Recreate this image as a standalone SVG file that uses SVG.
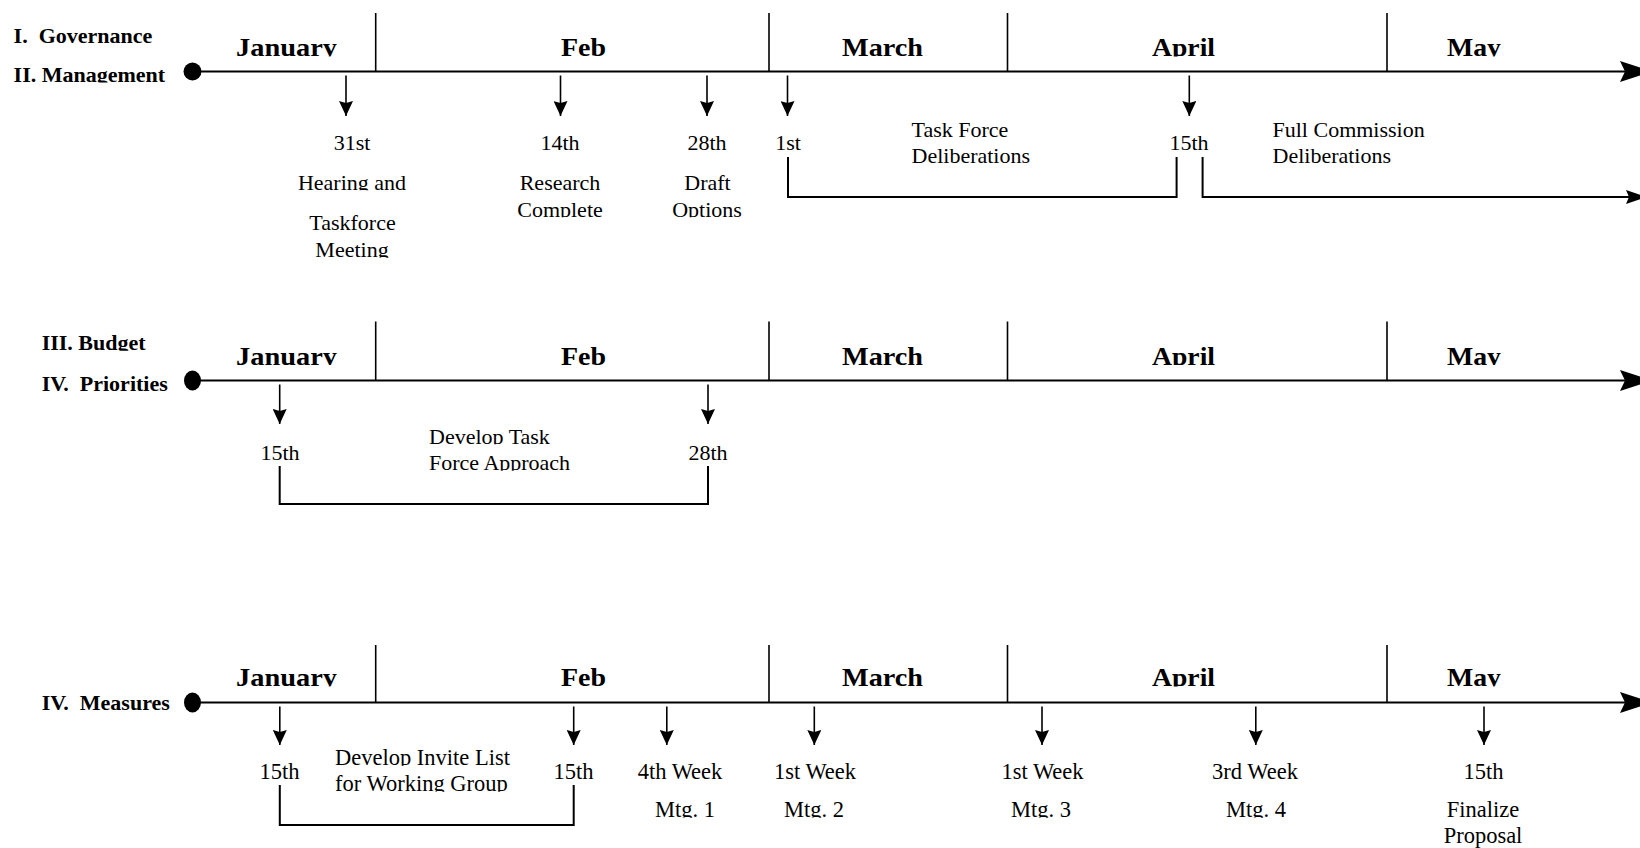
<svg xmlns="http://www.w3.org/2000/svg" width="1640" height="848" viewBox="0 0 1640 848">
<defs>
<style>
text{font-family:"Liberation Serif","Times New Roman",serif;fill:#000}
.lbl{font-size:22px;font-weight:bold}
.mon{font-size:25px;font-weight:bold}
.t{font-size:22px;text-anchor:middle}
.tl{font-size:22px}
.t3{font-size:22.5px;text-anchor:middle}
.t3l{font-size:22.5px}
.cl{clip-path:url(#cb)}
.axis{stroke:#000;stroke-width:2.2;fill:none}
.div{stroke:#000;stroke-width:1.6}
.drop{stroke:#000;stroke-width:1.6;marker-end:url(#ah)}
.br{stroke:#000;stroke-width:2;fill:none}
.head{fill:#000;stroke:none}
</style>
<clipPath id="cb" clipPathUnits="objectBoundingBox"><rect x="-0.1" y="-0.2" width="1.2" height="1.032"/></clipPath>
<marker id="ah" viewBox="0 0 15 14" refX="15" refY="7" markerWidth="15" markerHeight="14" markerUnits="userSpaceOnUse" orient="auto"><path d="M0,0 L15,7 L0,14 L2,7 z" fill="#000"/></marker>
</defs>
<rect width="1640" height="848" fill="#fff"/>

<g id="connectors">
  <!-- Row 1 axis -->
  <line class="axis" x1="192" y1="71.5" x2="1626" y2="71.5"/>
  <polygon class="head" points="1652,71.5 1620,61 1625,71.5 1620,82"/>
  <line class="div" x1="375.7" y1="13" x2="375.7" y2="71.5"/>
  <line class="div" x1="769" y1="13" x2="769" y2="71.5"/>
  <line class="div" x1="1007.5" y1="13" x2="1007.5" y2="71.5"/>
  <line class="div" x1="1387" y1="13" x2="1387" y2="71.5"/>
  <line class="drop" x1="346" y1="75.5" x2="346" y2="116"/>
  <line class="drop" x1="560.5" y1="75.5" x2="560.5" y2="116"/>
  <line class="drop" x1="707" y1="75.5" x2="707" y2="116"/>
  <line class="drop" x1="787.5" y1="75.5" x2="787.5" y2="116"/>
  <line class="drop" x1="1189.3" y1="75.5" x2="1189.3" y2="116"/>
  <path class="br" d="M788,157 V197 H1176.6 V157"/>
  <path class="br" d="M1202.6,157 V197 H1629"/>
  <polygon class="head" points="1647,197 1626,190 1629,197 1626,204"/>

  <!-- Row 2 axis -->
  <line class="axis" x1="192" y1="380.5" x2="1626" y2="380.5"/>
  <polygon class="head" points="1652,380.5 1620,370 1625,380.5 1620,391"/>
  <line class="div" x1="375.7" y1="321.5" x2="375.7" y2="380.5"/>
  <line class="div" x1="769" y1="321.5" x2="769" y2="380.5"/>
  <line class="div" x1="1007.5" y1="321.5" x2="1007.5" y2="380.5"/>
  <line class="div" x1="1387" y1="321.5" x2="1387" y2="380.5"/>
  <line class="drop" x1="279.7" y1="384.5" x2="279.7" y2="424"/>
  <line class="drop" x1="708" y1="384.5" x2="708" y2="424"/>
  <path class="br" d="M279.7,466 V504 H708 V466"/>

  <!-- Row 3 axis -->
  <line class="axis" x1="192" y1="702.5" x2="1626" y2="702.5"/>
  <polygon class="head" points="1652,702.5 1620,692 1625,702.5 1620,713"/>
  <line class="div" x1="375.7" y1="645" x2="375.7" y2="702.5"/>
  <line class="div" x1="769" y1="645" x2="769" y2="702.5"/>
  <line class="div" x1="1007.5" y1="645" x2="1007.5" y2="702.5"/>
  <line class="div" x1="1387" y1="645" x2="1387" y2="702.5"/>
  <line class="drop" x1="279.8" y1="706.5" x2="279.8" y2="745"/>
  <line class="drop" x1="573.7" y1="706.5" x2="573.7" y2="745"/>
  <line class="drop" x1="666.8" y1="706.5" x2="666.8" y2="745"/>
  <line class="drop" x1="814.3" y1="706.5" x2="814.3" y2="745"/>
  <line class="drop" x1="1042" y1="706.5" x2="1042" y2="745"/>
  <line class="drop" x1="1255.8" y1="706.5" x2="1255.8" y2="745"/>
  <line class="drop" x1="1484" y1="706.5" x2="1484" y2="745"/>
  <path class="br" d="M279.8,785 V825 H573.7 V785"/>
</g>

<!-- Row 1 -->
<g id="row1-label">
  <text class="lbl" x="13.6" y="43.3" xml:space="preserve">I.  Governance</text>
  <text class="lbl cl" x="13.6" y="81.7">II. Management</text>
  <circle cx="192.5" cy="71.5" r="9" fill="#000"/>
</g>
<g id="row1-months">
  <text class="mon cl" x="236" y="56" textLength="101" lengthAdjust="spacingAndGlyphs">January</text>
  <text class="mon cl" x="561" y="56" textLength="45" lengthAdjust="spacingAndGlyphs">Feb</text>
  <text class="mon cl" x="842" y="56" textLength="81" lengthAdjust="spacingAndGlyphs">March</text>
  <text class="mon cl" x="1152" y="56" textLength="63" lengthAdjust="spacingAndGlyphs">April</text>
  <text class="mon cl" x="1447" y="56" textLength="54" lengthAdjust="spacingAndGlyphs">May</text>
</g>
<g id="r1-jan31">
  <text class="t" x="352" y="150">31st</text>
  <text class="t cl" x="352" y="189.5">Hearing and</text>
  <text class="t" x="352.5" y="229.5">Taskforce</text>
  <text class="t cl" x="352" y="257">Meeting</text>
</g>
<g id="r1-feb14">
  <text class="t" x="560" y="150">14th</text>
  <text class="t" x="560" y="190">Research</text>
  <text class="t cl" x="560" y="216.5">Complete</text>
</g>
<g id="r1-feb28">
  <text class="t" x="707" y="150">28th</text>
  <text class="t" x="707.5" y="190">Draft</text>
  <text class="t cl" x="707" y="216.5">Options</text>
</g>
<g id="r1-mar1">
  <text class="t" x="788" y="150">1st</text>
  <text class="tl" x="911.5" y="136.7">Task Force</text>
  <text class="tl" x="911.5" y="163">Deliberations</text>
</g>
<g id="r1-apr15">
  <text class="t" x="1189" y="150">15th</text>
  <text class="tl" x="1272.5" y="136.7">Full Commission</text>
  <text class="tl" x="1272.5" y="163">Deliberations</text>
</g>

<!-- Row 2 -->
<g id="row2-label">
  <text class="lbl cl" x="41.7" y="350">III. Budget</text>
  <text class="lbl" x="41.7" y="390.7" xml:space="preserve">IV.  Priorities</text>
  <ellipse cx="192.5" cy="380.5" rx="8.5" ry="10" fill="#000"/>
</g>
<g id="row2-months">
  <text class="mon cl" x="236" y="364.5" textLength="101" lengthAdjust="spacingAndGlyphs">January</text>
  <text class="mon cl" x="561" y="364.5" textLength="45" lengthAdjust="spacingAndGlyphs">Feb</text>
  <text class="mon cl" x="842" y="364.5" textLength="81" lengthAdjust="spacingAndGlyphs">March</text>
  <text class="mon cl" x="1152" y="364.5" textLength="63" lengthAdjust="spacingAndGlyphs">April</text>
  <text class="mon cl" x="1447" y="364.5" textLength="54" lengthAdjust="spacingAndGlyphs">May</text>
</g>
<g id="r2-approach">
  <text class="t" x="280" y="459.5">15th</text>
  <text class="t" x="708" y="459.5">28th</text>
  <text class="tl cl" x="429" y="443.5">Develop Task</text>
  <text class="tl cl" x="429" y="470">Force Approach</text>
</g>

<!-- Row 3 -->
<g id="row3-label">
  <text class="lbl" x="41.7" y="710" xml:space="preserve">IV.  Measures</text>
  <ellipse cx="192.5" cy="702.5" rx="8.5" ry="10" fill="#000"/>
</g>
<g id="row3-months">
  <text class="mon cl" x="236" y="686" textLength="101" lengthAdjust="spacingAndGlyphs">January</text>
  <text class="mon cl" x="561" y="686" textLength="45" lengthAdjust="spacingAndGlyphs">Feb</text>
  <text class="mon cl" x="842" y="686" textLength="81" lengthAdjust="spacingAndGlyphs">March</text>
  <text class="mon cl" x="1152" y="686" textLength="63" lengthAdjust="spacingAndGlyphs">April</text>
  <text class="mon cl" x="1447" y="686" textLength="54" lengthAdjust="spacingAndGlyphs">May</text>
</g>
<g id="r3-invite">
  <text class="t3" x="279.5" y="778.5">15th</text>
  <text class="t3" x="573.5" y="778.5">15th</text>
  <text class="t3l cl" x="335" y="765">Develop Invite List</text>
  <text class="t3l cl" x="335" y="791">for Working Group</text>
</g>
<g id="r3-mtg1">
  <text class="t3" x="680" y="778.5">4th Week</text>
  <text class="t3 cl" x="685" y="817">Mtg. 1</text>
</g>
<g id="r3-mtg2">
  <text class="t3" x="815" y="778.5">1st Week</text>
  <text class="t3 cl" x="814" y="817">Mtg. 2</text>
</g>
<g id="r3-mtg3">
  <text class="t3" x="1042.5" y="778.5">1st Week</text>
  <text class="t3 cl" x="1041" y="817">Mtg. 3</text>
</g>
<g id="r3-mtg4">
  <text class="t3" x="1255" y="778.5">3rd Week</text>
  <text class="t3 cl" x="1256" y="817">Mtg. 4</text>
</g>
<g id="r3-final">
  <text class="t3" x="1483.5" y="778.5">15th</text>
  <text class="t3" x="1483" y="817">Finalize</text>
  <text class="t3" x="1483" y="843">Proposal</text>
</g>
</svg>
